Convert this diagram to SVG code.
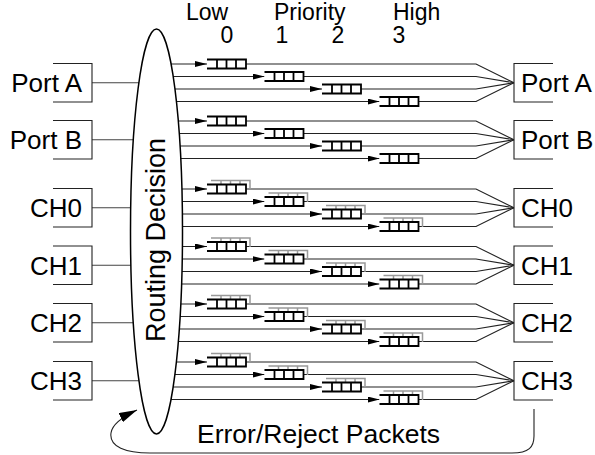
<svg xmlns="http://www.w3.org/2000/svg" xmlns:xlink="http://www.w3.org/1999/xlink" width="595" height="455" viewBox="0 0 595 455">
<style>
text{font-family:"Liberation Sans",Arial,sans-serif;fill:#000}
.lbl{font-size:26px}
.hdr{font-size:23px}
.ln{fill:none;stroke:#222;stroke-width:1.1}
.in{fill:none;stroke:#444;stroke-width:1.1}
.box{fill:none;stroke:#222;stroke-width:1.1}
</style>
<defs>
<marker id="ah" viewBox="0 0 12 6" refX="12" refY="3" markerWidth="12" markerHeight="6" markerUnits="userSpaceOnUse" orient="auto"><path d="M0,0L12,3L0,6z" fill="#000"/></marker>
<marker id="ahL" viewBox="0 0 18 10" refX="18" refY="5" markerWidth="18" markerHeight="10" markerUnits="userSpaceOnUse" orient="auto"><path d="M0,0L18,5L0,10z" fill="#000"/></marker>
<g id="q"><rect x="0" y="-4.5" width="39" height="9" fill="#fff"/><path d="M0,-4.5H39V4.5H0M10,-4.5V4.5M19.5,-4.5V4.5M29,-4.5V4.5" fill="none" stroke="#000" stroke-width="1.8"/></g>
<g id="qs"><path d="M4,-8.5H43V0.5M14,-8.5V-4M23.5,-8.5V-4M33,-8.5V-4" fill="none" stroke="#999" stroke-width="1.5"/><use xlink:href="#q"/></g>
</defs>
<g id="connectors">
<path class="in" d="M92,82.75H157M92,139.75H157M92,207.75H157M92,265.25H157M92,322.75H157M92,380.75H157"/>
<!-- Port A -->
<path class="ln" marker-end="url(#ah)" d="M157,64H207"/><path class="ln" d="M246,64H476L514,82.75"/>
<path class="ln" marker-end="url(#ah)" d="M157,76.5H264.5"/><path class="ln" d="M303.5,76.5H476L514,82.75"/>
<path class="ln" marker-end="url(#ah)" d="M157,89H322"/><path class="ln" d="M361,89H476L514,82.75"/>
<path class="ln" marker-end="url(#ah)" d="M157,101.5H379.5"/><path class="ln" d="M418.5,101.5H476L514,82.75"/>
<!-- Port B -->
<path class="ln" marker-end="url(#ah)" d="M157,121H207"/><path class="ln" d="M246,121H476L514,139.75"/>
<path class="ln" marker-end="url(#ah)" d="M157,133.5H264.5"/><path class="ln" d="M303.5,133.5H476L514,139.75"/>
<path class="ln" marker-end="url(#ah)" d="M157,146H322"/><path class="ln" d="M361,146H476L514,139.75"/>
<path class="ln" marker-end="url(#ah)" d="M157,158.5H379.5"/><path class="ln" d="M418.5,158.5H476L514,139.75"/>
<!-- CH0 -->
<path class="ln" marker-end="url(#ah)" d="M157,189H207"/><path class="ln" d="M246,189H476L514,207.75"/>
<path class="ln" marker-end="url(#ah)" d="M157,201.5H264.5"/><path class="ln" d="M303.5,201.5H476L514,207.75"/>
<path class="ln" marker-end="url(#ah)" d="M157,214H322"/><path class="ln" d="M361,214H476L514,207.75"/>
<path class="ln" marker-end="url(#ah)" d="M157,226.5H379.5"/><path class="ln" d="M418.5,226.5H476L514,207.75"/>
<!-- CH1 -->
<path class="ln" marker-end="url(#ah)" d="M157,246.5H207"/><path class="ln" d="M246,246.5H476L514,265.25"/>
<path class="ln" marker-end="url(#ah)" d="M157,259H264.5"/><path class="ln" d="M303.5,259H476L514,265.25"/>
<path class="ln" marker-end="url(#ah)" d="M157,271.5H322"/><path class="ln" d="M361,271.5H476L514,265.25"/>
<path class="ln" marker-end="url(#ah)" d="M157,284H379.5"/><path class="ln" d="M418.5,284H476L514,265.25"/>
<!-- CH2 -->
<path class="ln" marker-end="url(#ah)" d="M157,304H207"/><path class="ln" d="M246,304H476L514,322.75"/>
<path class="ln" marker-end="url(#ah)" d="M157,316.5H264.5"/><path class="ln" d="M303.5,316.5H476L514,322.75"/>
<path class="ln" marker-end="url(#ah)" d="M157,329H322"/><path class="ln" d="M361,329H476L514,322.75"/>
<path class="ln" marker-end="url(#ah)" d="M157,341.5H379.5"/><path class="ln" d="M418.5,341.5H476L514,322.75"/>
<!-- CH3 -->
<path class="ln" marker-end="url(#ah)" d="M157,362H207"/><path class="ln" d="M246,362H476L514,380.75"/>
<path class="ln" marker-end="url(#ah)" d="M157,374.5H264.5"/><path class="ln" d="M303.5,374.5H476L514,380.75"/>
<path class="ln" marker-end="url(#ah)" d="M157,387H322"/><path class="ln" d="M361,387H476L514,380.75"/>
<path class="ln" marker-end="url(#ah)" d="M157,399.5H379.5"/><path class="ln" d="M418.5,399.5H476L514,380.75"/>
<!-- error loop -->
<path fill="none" stroke="#222" stroke-width="1.1" marker-end="url(#ahL)" d="M534,409V436C534,447 529,453 512,453H150C126,453 109,447 111,433C112,425 120,418 137,410"/>
</g>
<g id="routing">
<ellipse cx="156.5" cy="231.5" rx="26" ry="202.5" fill="#fff" stroke="#000" stroke-width="1.5"/>
<text style="font-size:27px" text-anchor="middle" transform="translate(165,240) rotate(-90)">Routing Decision</text>
</g>
<g id="queues">
<g id="q-pa"><use xlink:href="#q" x="207" y="64"/><use xlink:href="#q" x="264.5" y="76.5"/><use xlink:href="#q" x="322" y="89"/><use xlink:href="#q" x="379.5" y="101.5"/></g>
<g id="q-pb"><use xlink:href="#q" x="207" y="121"/><use xlink:href="#q" x="264.5" y="133.5"/><use xlink:href="#q" x="322" y="146"/><use xlink:href="#q" x="379.5" y="158.5"/></g>
<g id="q-ch0"><use xlink:href="#qs" x="207" y="189"/><use xlink:href="#qs" x="264.5" y="201.5"/><use xlink:href="#qs" x="322" y="214"/><use xlink:href="#qs" x="379.5" y="226.5"/></g>
<g id="q-ch1"><use xlink:href="#qs" x="207" y="246.5"/><use xlink:href="#qs" x="264.5" y="259"/><use xlink:href="#qs" x="322" y="271.5"/><use xlink:href="#qs" x="379.5" y="284"/></g>
<g id="q-ch2"><use xlink:href="#qs" x="207" y="304"/><use xlink:href="#qs" x="264.5" y="316.5"/><use xlink:href="#qs" x="322" y="329"/><use xlink:href="#qs" x="379.5" y="341.5"/></g>
<g id="q-ch3"><use xlink:href="#qs" x="207" y="362"/><use xlink:href="#qs" x="264.5" y="374.5"/><use xlink:href="#qs" x="322" y="387"/><use xlink:href="#qs" x="379.5" y="399.5"/></g>
</g>
<g id="in-porta"><path class="box" d="M53,63.5H92V102H53"/><text class="lbl" x="82" y="92.2" text-anchor="end">Port A</text></g>
<g id="in-portb"><path class="box" d="M53,120.5H92V159H53"/><text class="lbl" x="82" y="149.2" text-anchor="end">Port B</text></g>
<g id="in-ch0"><path class="box" d="M53,188.5H92V227H53"/><text class="lbl" x="82" y="217.2" text-anchor="end">CH0</text></g>
<g id="in-ch1"><path class="box" d="M53,246H92V284.5H53"/><text class="lbl" x="82" y="274.7" text-anchor="end">CH1</text></g>
<g id="in-ch2"><path class="box" d="M53,303.5H92V342H53"/><text class="lbl" x="82" y="332.2" text-anchor="end">CH2</text></g>
<g id="in-ch3"><path class="box" d="M53,361.5H92V400H53"/><text class="lbl" x="82" y="390.2" text-anchor="end">CH3</text></g>
<g id="out-porta"><path class="box" d="M553,63.5H514V102H553"/><text class="lbl" x="521" y="92.2">Port A</text></g>
<g id="out-portb"><path class="box" d="M553,120.5H514V159H553"/><text class="lbl" x="521" y="149.2">Port B</text></g>
<g id="out-ch0"><path class="box" d="M553,188.5H514V227H553"/><text class="lbl" x="521" y="217.2">CH0</text></g>
<g id="out-ch1"><path class="box" d="M553,246H514V284.5H553"/><text class="lbl" x="521" y="274.7">CH1</text></g>
<g id="out-ch2"><path class="box" d="M553,303.5H514V342H553"/><text class="lbl" x="521" y="332.2">CH2</text></g>
<g id="out-ch3"><path class="box" d="M553,361.5H514V400H553"/><text class="lbl" x="521" y="390.2">CH3</text></g>
<g id="header">
<text class="hdr" x="186" y="20">Low</text>
<text class="hdr" x="274" y="20">Priority</text>
<text class="hdr" x="393" y="20">High</text>
<text class="hdr" x="227" y="43" text-anchor="middle">0</text>
<text class="hdr" x="282" y="43" text-anchor="middle">1</text>
<text class="hdr" x="338" y="43" text-anchor="middle">2</text>
<text class="hdr" x="399" y="43" text-anchor="middle">3</text>
</g>
<g id="error-label"><text x="197" y="443" style="font-size:26.5px">Error/Reject Packets</text></g>
</svg>
